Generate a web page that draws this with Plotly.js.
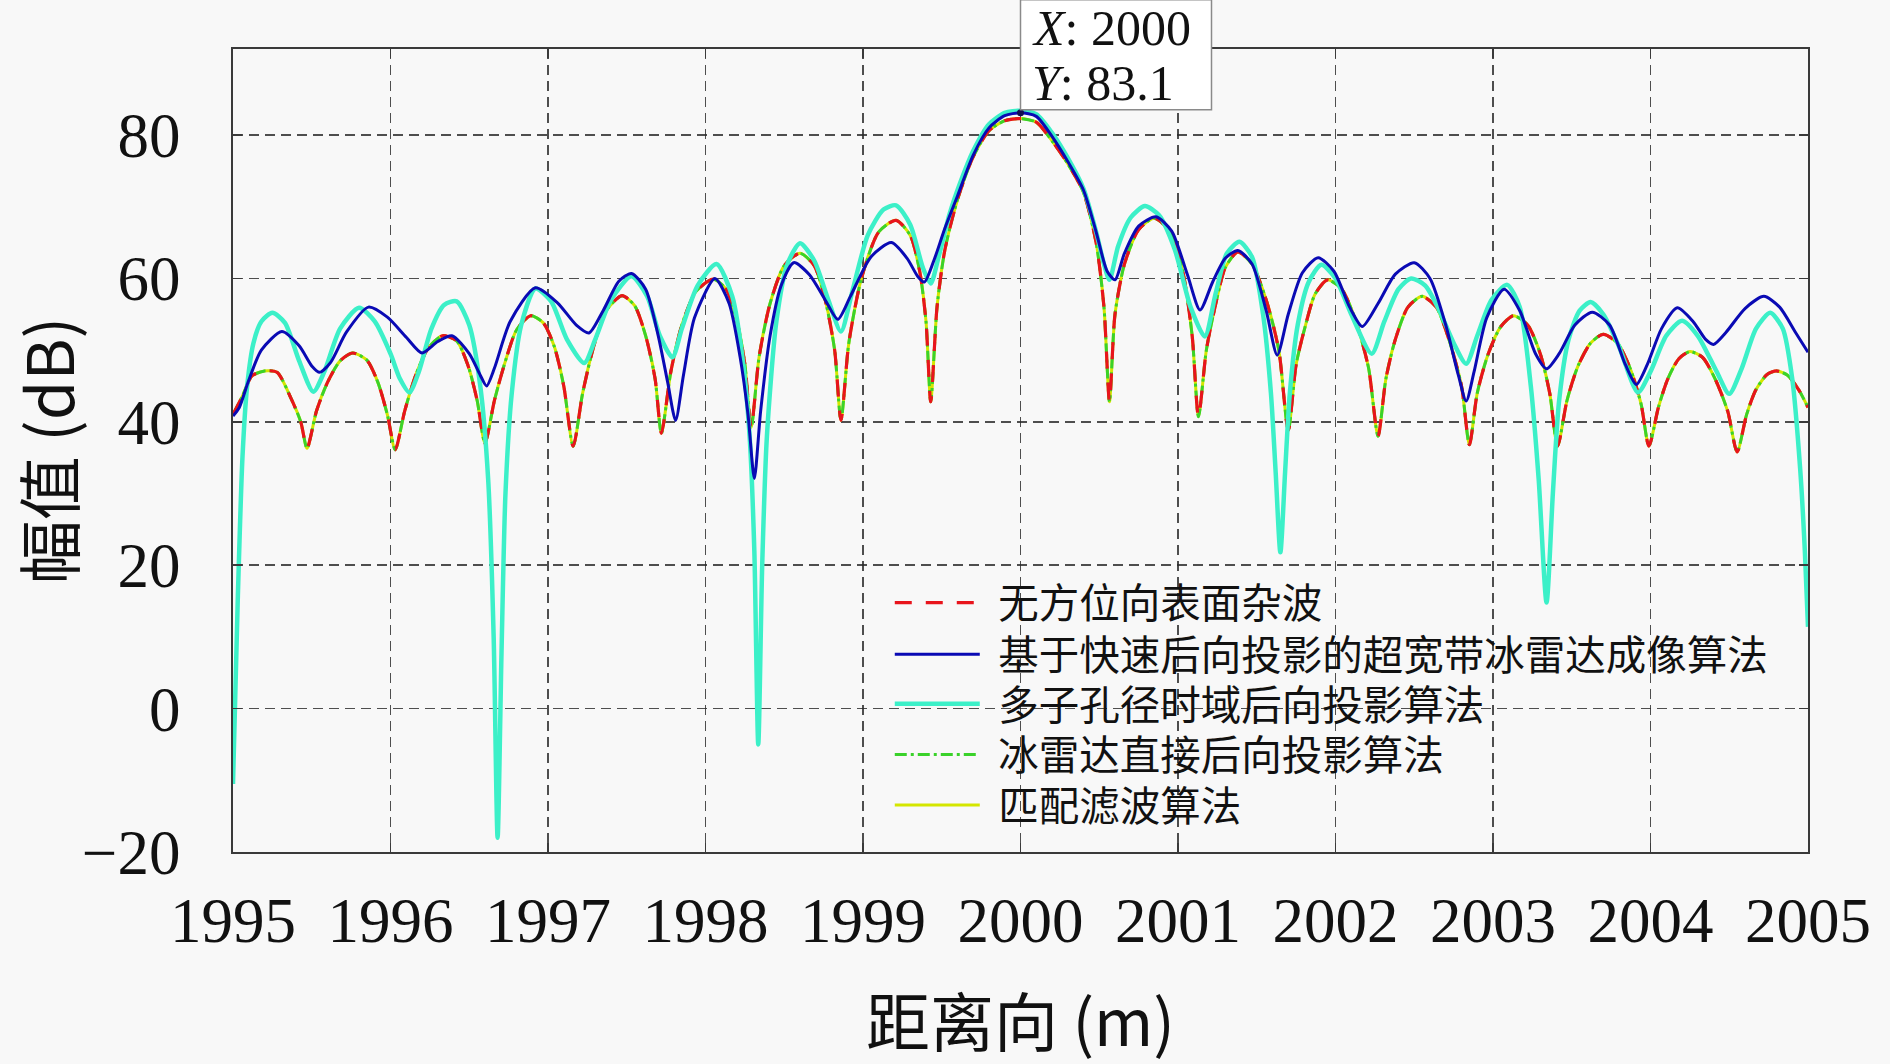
<!DOCTYPE html>
<html>
<head>
<meta charset="utf-8">
<script src="https://cdn.plot.ly/plotly-3.0.1.min.js"></script>
<style>
  html, body { margin: 0; padding: 0; background: #f8f8f8; }
  #chart { width: 1890px; height: 1064px; }
</style>
</head>
<body>
<div id="chart"></div>
<script>
// ── Series labels ─────────────────────────────────────────────────────────────
const names = [
  '无方位向表面杂波',
  '基于快速后向投影的超宽带冰雷达成像算法',
  '多子孔径时域后向投影算法',
  '冰雷达直接后向投影算法',
  '匹配滤波算法'
];

// ── Surface clutter (red dashed); DBP (green) and MF (yellow) sit on top of it ─
const clutterX = [
  1995.00, 1995.06, 1995.12, 1995.20, 1995.28, 1995.37, 1995.43, 1995.47,
  1995.53, 1995.60, 1995.68, 1995.76, 1995.85, 1995.92, 1995.98, 1996.03,
  1996.09, 1996.16, 1996.24, 1996.33, 1996.42, 1996.49, 1996.55, 1996.60,
  1996.66, 1996.73, 1996.80, 1996.89, 1996.97, 1997.04, 1997.10, 1997.16,
  1997.22, 1997.29, 1997.37, 1997.47, 1997.55, 1997.62, 1997.68, 1997.72,
  1997.78, 1997.85, 1997.94, 1998.05, 1998.13, 1998.20, 1998.25, 1998.29,
  1998.34, 1998.41, 1998.50, 1998.60, 1998.69, 1998.76, 1998.82, 1998.86,
  1998.91, 1998.99, 1999.10, 1999.21, 1999.30, 1999.36, 1999.40, 1999.43,
  1999.47, 1999.52, 1999.60, 1999.70, 1999.80, 1999.90, 2000.00, 2000.10,
  2000.20, 2000.30, 2000.40, 2000.48, 2000.53, 2000.565,
  2000.60, 2000.66, 2000.75, 2000.85, 2000.95, 2001.03, 2001.09, 2001.13,
  2001.18, 2001.24, 2001.30, 2001.38, 2001.47, 2001.56, 2001.64, 2001.70,
  2001.75, 2001.81, 2001.87, 2001.95, 2002.04, 2002.13, 2002.21, 2002.27,
  2002.32, 2002.38, 2002.46, 2002.55, 2002.64, 2002.72, 2002.80, 2002.85,
  2002.90, 2002.97, 2003.05, 2003.13, 2003.22, 2003.30, 2003.36, 2003.41,
  2003.47, 2003.54, 2003.62, 2003.70, 2003.79, 2003.87, 2003.94, 2003.99,
  2004.05, 2004.11, 2004.18, 2004.25, 2004.33, 2004.41, 2004.49, 2004.55,
  2004.61, 2004.67, 2004.74, 2004.80, 2004.87, 2004.94, 2005.00
];
const clutterY = [
  41.0, 43.6, 46.4, 47.1, 46.9, 43.2, 40.0, 36.3,
  41.5, 45.5, 48.5, 49.6, 48.6, 45.5, 41.0, 36.1,
  41.5, 46.5, 50.3, 52.0, 51.3, 48.0, 43.0, 37.0,
  43.0, 48.5, 52.8, 54.8, 53.8, 50.5, 45.0, 36.6,
  44.0, 50.5, 55.5, 57.6, 56.2, 52.0, 46.0, 38.4,
  47.0, 53.5, 58.2, 59.9, 58.5, 54.0, 48.0, 39.2,
  49.0, 56.5, 61.8, 63.5, 61.8, 57.0, 50.0, 40.2,
  51.0, 60.0, 66.5, 68.1, 66.0, 61.0, 54.0, 42.8,
  56.0, 64.0, 71.0, 77.0, 80.6, 82.0, 82.3, 81.8,
  79.2, 76.0, 72.0, 65.0, 56.0, 42.8,
  55.0, 62.0, 66.8, 68.4, 66.5, 61.0, 52.0, 40.7,
  50.0, 56.5, 61.5, 63.7, 62.0, 57.0, 50.0, 38.8,
  48.0, 53.5, 57.8, 59.8, 58.5, 54.0, 47.5, 38.0,
  46.0, 51.5, 56.0, 57.5, 56.0, 51.5, 45.0, 36.8,
  44.0, 49.5, 53.3, 54.8, 53.5, 49.5, 44.0, 36.6,
  43.0, 47.8, 51.0, 52.2, 51.0, 47.5, 42.5, 36.6,
  42.0, 46.0, 48.8, 49.8, 49.0, 46.0, 41.5, 35.8,
  41.0, 44.5, 46.6, 47.1, 46.5, 44.5, 42.0
];
const dbpX = clutterX, dbpY = clutterY;   // 冰雷达直接后向投影算法
const mfX = clutterX, mfY = clutterY;     // 匹配滤波算法

// ── Fast back-projection UWB ice radar (dark blue) ───────────────────────────
const fbpX = [
  1995.00, 1995.04, 1995.10, 1995.18, 1995.31, 1995.42, 1995.50, 1995.55,
  1995.62, 1995.72, 1995.86, 1995.98, 1996.10, 1996.20, 1996.30, 1996.39,
  1996.50, 1996.57, 1996.61, 1996.66, 1996.76, 1996.92, 1997.06, 1997.18,
  1997.26, 1997.35, 1997.45, 1997.53, 1997.62, 1997.70, 1997.76, 1997.81,
  1997.86, 1997.93, 1998.06, 1998.15, 1998.22, 1998.27, 1998.31, 1998.35,
  1998.41, 1998.48, 1998.56, 1998.66, 1998.76, 1998.84, 1998.92, 1999.05,
  1999.18, 1999.28, 1999.35, 1999.39, 1999.45, 1999.52, 1999.60, 1999.70,
  1999.80, 1999.90, 2000.00, 2000.10, 2000.20, 2000.30, 2000.40, 2000.48,
  2000.55, 2000.60, 2000.66, 2000.75, 2000.86, 2000.96, 2001.06, 2001.14,
  2001.22, 2001.30, 2001.38, 2001.47, 2001.56, 2001.63, 2001.70, 2001.79,
  2001.89, 2001.99, 2002.09, 2002.17, 2002.27, 2002.38, 2002.50, 2002.60,
  2002.70, 2002.78, 2002.83, 2002.88, 2002.96, 2003.07, 2003.17, 2003.27,
  2003.34, 2003.42, 2003.52, 2003.63, 2003.74, 2003.84, 2003.91, 2003.98,
  2004.07, 2004.17, 2004.27, 2004.35, 2004.40, 2004.48, 2004.60, 2004.72,
  2004.82, 2004.92, 2005.00
];
const fbpY = [
  40.8, 42.0, 45.8, 50.0, 52.6, 50.6, 47.8, 46.9,
  48.3, 52.5, 56.0, 54.6, 51.8, 49.6, 51.2, 52.0,
  49.5, 46.5, 45.0, 47.5, 54.0, 58.7, 56.6, 53.5,
  52.4, 55.5, 59.6, 60.7, 58.5, 52.0, 45.5, 40.2,
  46.5, 54.5, 60.0, 56.5, 49.0, 41.0, 32.1, 41.5,
  52.0, 59.0, 62.2, 60.5, 57.0, 54.3, 57.5, 63.0,
  65.0, 62.8, 60.2, 59.5, 62.5, 67.0, 71.5, 77.2,
  81.0, 82.7, 83.1, 82.6, 79.8, 76.3, 72.3, 66.5,
  61.0, 59.8, 63.5, 67.3, 68.6, 66.6, 60.5, 55.6,
  59.5, 62.8, 63.9, 62.0, 55.5, 49.3, 55.0, 60.8,
  62.9, 61.0, 56.0, 53.3, 56.5, 60.6, 62.2, 60.0,
  53.5, 46.5, 42.9, 47.0, 54.5, 58.5, 55.5, 49.5,
  47.4, 49.5, 53.5, 55.3, 53.5, 48.0, 45.2, 48.0,
  53.0, 55.9, 54.0, 51.5, 50.8, 52.5, 55.8, 57.5,
  56.0, 52.5, 49.7
];

// ── Multi-subaperture time-domain BP (cyan) ──────────────────────────────────
const msaX = [
  1995.00, 1995.03, 1995.06, 1995.09, 1995.13, 1995.18, 1995.25, 1995.33,
  1995.42, 1995.51, 1995.58, 1995.68, 1995.80, 1995.90, 1996.00, 1996.06,
  1996.12, 1996.18, 1996.26, 1996.34, 1996.42, 1996.50, 1996.57, 1996.62,
  1996.655, 1996.68, 1996.705, 1996.73, 1996.77, 1996.83, 1996.92, 1997.02,
  1997.12, 1997.23, 1997.30, 1997.40, 1997.53, 1997.63, 1997.71, 1997.79,
  1997.85, 1997.95, 1998.07, 1998.17, 1998.24, 1998.28, 1998.31, 1998.335,
  1998.36, 1998.39, 1998.45, 1998.52, 1998.60, 1998.69, 1998.78, 1998.86,
  1998.93, 1999.03, 1999.13, 1999.21, 1999.30, 1999.38, 1999.43, 1999.48,
  1999.55, 1999.62, 1999.70, 1999.80, 1999.90, 2000.00, 2000.10, 2000.20,
  2000.30, 2000.40, 2000.48, 2000.53, 2000.565, 2000.62, 2000.70, 2000.79,
  2000.88, 2000.98, 2001.08, 2001.17, 2001.24, 2001.31, 2001.39, 2001.47,
  2001.54, 2001.59, 2001.62, 2001.65, 2001.68, 2001.71, 2001.76, 2001.83,
  2001.91, 2002.00, 2002.10, 2002.23, 2002.31, 2002.40, 2002.48, 2002.57,
  2002.66, 2002.75, 2002.83, 2002.90, 2002.99, 2003.09, 2003.17, 2003.24,
  2003.29, 2003.34, 2003.38, 2003.42, 2003.48, 2003.55, 2003.62, 2003.70,
  2003.80, 2003.92, 2004.00, 2004.10, 2004.20, 2004.30, 2004.42, 2004.50,
  2004.58, 2004.67, 2004.76, 2004.84, 2004.90, 2004.95, 2004.98, 2005.00
];
const msaY = [
  -10.5, 15.0, 35.0, 45.0, 51.0, 54.0, 55.2, 53.8,
  48.5, 44.2, 47.0, 53.0, 55.9, 54.0, 49.5, 46.0,
  44.1, 47.0, 53.0, 56.3, 56.8, 53.5, 45.0, 32.0,
  10.0, -18.0, 8.0, 30.0, 44.0, 53.5, 58.6, 56.8,
  51.5, 48.2, 51.5, 57.0, 60.3, 57.5, 52.0, 49.0,
  53.0, 59.0, 62.0, 57.5, 48.0, 38.0, 22.0, -5.0,
  20.0, 38.0, 54.0, 62.0, 64.9, 62.5, 57.0, 52.6,
  58.0, 66.0, 69.6, 70.2, 67.5, 61.5, 59.3, 63.0,
  69.0, 73.5, 77.8, 81.5, 83.1, 83.4, 82.9, 80.3,
  76.8, 72.5, 66.5, 62.0, 59.8, 64.5, 68.5, 70.1,
  68.8, 64.0, 56.0, 51.9, 58.0, 63.5, 65.1, 63.0,
  55.0, 44.0, 33.0, 21.8, 33.0, 44.0, 53.5, 59.5,
  61.9, 60.0, 55.0, 49.5, 54.0, 58.5, 60.0, 59.0,
  55.5, 51.0, 48.1, 52.0, 57.0, 59.1, 56.0, 45.0,
  32.0, 14.8, 30.0, 43.0, 51.5, 55.5, 56.7, 55.0,
  50.5, 44.1, 47.0, 52.0, 54.1, 52.0, 47.0, 43.9,
  47.5, 53.0, 55.2, 53.0, 46.0, 33.5, 22.0, 11.4
];

// ── Data tip ──────────────────────────────────────────────────────────────────
const tipX = [2000];
const tipY = [83.1];

// ── Axes ─────────────────────────────────────────────────────────────────────
const xRange = [1995, 2005];
const yRange = [-20, 92];
const xTicks = [1995, 1996, 1997, 1998, 1999, 2000, 2001, 2002, 2003, 2004, 2005];
const yTicks = [-20, 0, 20, 40, 60, 80];

const serif = 'Liberation Serif, "Noto Sans CJK SC", serif';
const cjk = '"Noto Sans CJK SC", Liberation Serif, sans-serif';
const bg = '#f8f8f8';

// one legend per entry so the rows can sit at the reference spacing
const legendRowY = [0.3104, 0.2459, 0.1843, 0.1213, 0.0583];
function legendBox(i) {
  return {
    x: 0.417, y: legendRowY[i], xanchor: 'left', yanchor: 'middle',
    bgcolor: 'rgba(0,0,0,0)', borderwidth: 0,
    font: { family: serif, size: 40.5, color: '#111' },
    itemwidth: 85
  };
}
function legendId(i) { return i === 0 ? 'legend' : 'legend' + (i + 1); }

function lineTrace(x, y, idx, color, width, dash) {
  return {
    x: x, y: y, name: '\u2004' + names[idx], type: 'scatter', mode: 'lines',
    line: { color: color, width: width, dash: dash, shape: 'spline', smoothing: 0.7 },
    legend: legendId(idx),
    hoverinfo: 'skip'
  };
}

const traces = [
  lineTrace(mfX, mfY, 4, '#d4e600', 3, 'solid'),
  lineTrace(dbpX, dbpY, 3, '#3ad22a', 3, '12px,4px,3px,4px'),
  lineTrace(clutterX, clutterY, 0, '#e8141c', 3.2, '17px,14px'),
  lineTrace(msaX, msaY, 2, '#3cf0c8', 4.5, 'solid'),
  lineTrace(fbpX, fbpY, 1, '#0a0ab4', 3, 'solid'),
  {
    x: tipX, y: tipY, type: 'scatter', mode: 'markers', showlegend: false,
    marker: { color: '#101050', size: 7 }, hoverinfo: 'skip'
  }
];

const axisCommon = {
  showline: true, linecolor: '#3a3a3a', linewidth: 2, mirror: 'ticks',
  ticks: 'inside', ticklen: 9, tickwidth: 1.5, tickcolor: '#3a3a3a',
  showgrid: true, gridcolor: 'rgba(40,40,40,0.82)', gridwidth: 1.5, griddash: '10px,6px',
  zeroline: false,
  tickfont: { family: serif, size: 63, color: '#111' }
};

// paper position of the data tip, for its box
const tipPx = (tipX[0] - xRange[0]) / (xRange[1] - xRange[0]);
const tipPy = (tipY[0] - yRange[0]) / (yRange[1] - yRange[0]);

const layout = {
  width: 1890, height: 1064,
  paper_bgcolor: bg,
  plot_bgcolor: bg,
  margin: { l: 233, r: 82, t: 49, b: 212 },
  showlegend: true,
  xaxis: Object.assign({}, axisCommon, {
    range: xRange, tickvals: xTicks, ticktext: xTicks.map(String),
    ticklabelstandoff: 12,
    title: { text: '距离向 (m)', font: { family: cjk, size: 64, color: '#111' }, standoff: 48 }
  }),
  yaxis: Object.assign({}, axisCommon, {
    range: yRange, tickvals: yTicks,
    ticklabelstandoff: 38,
    title: { text: '幅值 (dB)', font: { family: cjk, size: 64, color: '#111' }, standoff: 16 }
  }),
  legend: legendBox(0),
  legend2: legendBox(1),
  legend3: legendBox(2),
  legend4: legendBox(3),
  legend5: legendBox(4),
  shapes: [
    // legend backdrop: hides the grid under the legend, curves stay on top
    { type: 'rect', xref: 'paper', yref: 'paper', x0: 0.4146, x1: 0.735, y0: 0, y1: 0.3736,
      fillcolor: bg, line: { width: 0 }, layer: 'between' },
    { type: 'rect', xref: 'paper', yref: 'paper', x0: 0.735, x1: 1, y0: 0, y1: 0.3255,
      fillcolor: bg, line: { width: 0 }, layer: 'between' },
    // data tip box
    { type: 'rect', xref: 'paper', yref: 'paper',
      xsizemode: 'pixel', ysizemode: 'pixel', xanchor: tipPx, yanchor: tipPy,
      x0: 0, x1: 191, y0: 3, y1: 113,
      fillcolor: '#ffffff', line: { color: '#8a8a8a', width: 1.5 }, layer: 'above' }
  ],
  annotations: [
    { x: tipX[0], y: tipY[0], xref: 'x', yref: 'y', text: '<i>X</i>: 2000',
      showarrow: false, xanchor: 'left', yanchor: 'middle', xshift: 9, yshift: 85,
      font: { family: serif, size: 50, color: '#111' } },
    { x: tipX[0], y: tipY[0], xref: 'x', yref: 'y', text: '<i>Y</i>: 83.1',
      showarrow: false, xanchor: 'left', yanchor: 'middle', xshift: 9, yshift: 30,
      font: { family: serif, size: 50, color: '#111' } }
  ]
};

Plotly.newPlot('chart', traces, layout, { displayModeBar: false, staticPlot: true });
</script>
</body>
</html>
